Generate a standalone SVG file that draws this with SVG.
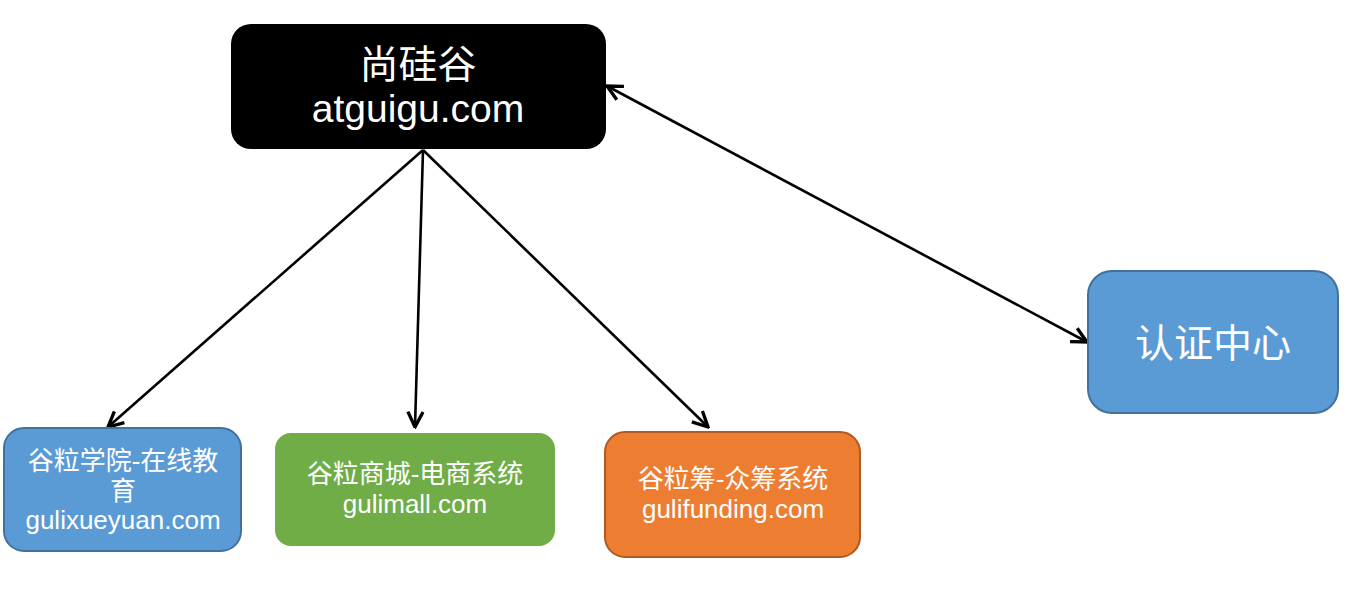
<svg xmlns="http://www.w3.org/2000/svg" width="1366" height="591" viewBox="0 0 1366 591">
<style>
.t{font-family:"Liberation Sans","Noto Sans CJK SC",sans-serif;fill:#fff;text-anchor:middle}
.c{stroke:#000;stroke-width:2.6;fill:none}
</style>
<defs>
<marker id="a" viewBox="0 0 12 12" refX="11" refY="6" markerWidth="7" markerHeight="7" markerUnits="strokeWidth" orient="auto-start-reverse">
<path d="M1,1 L11,6 L1,11" fill="none" stroke="#000" stroke-width="2.2"/>
</marker>
</defs>
<rect width="1366" height="591" fill="#fff"/>
<g id="connectors">
<line class="c" x1="423" y1="150" x2="108" y2="427" marker-end="url(#a)"/>
<line class="c" x1="423" y1="150" x2="415" y2="427" marker-end="url(#a)"/>
<line class="c" x1="423" y1="150" x2="708" y2="427" marker-end="url(#a)"/>
<line class="c" x1="607" y1="86" x2="1087" y2="342" marker-start="url(#a)" marker-end="url(#a)"/>
</g>
<g id="atguigu">
<rect x="231" y="24" width="375" height="125" rx="20" fill="#000"/>
<text class="t" x="418" y="78" font-size="39">尚硅谷</text>
<text class="t" x="418" y="122" font-size="39">atguigu.com</text>
</g>
<g id="gulixueyuan">
<rect x="4" y="428" width="237" height="123" rx="20" fill="#5b9bd5" stroke="#41719c" stroke-width="2"/>
<text class="t" x="123" y="470" font-size="26">谷粒学院-在线教</text>
<text class="t" x="123" y="500" font-size="26">育</text>
<text class="t" x="123" y="529" font-size="26">gulixueyuan.com</text>
</g>
<g id="gulimall">
<rect x="275" y="433" width="280" height="113" rx="16" fill="#70ad47"/>
<text class="t" x="415" y="483" font-size="26">谷粒商城-电商系统</text>
<text class="t" x="415" y="513" font-size="26">gulimall.com</text>
</g>
<g id="gulifunding">
<rect x="605" y="432" width="255" height="125" rx="20" fill="#ed7d31" stroke="#ae5a21" stroke-width="2"/>
<text class="t" x="733" y="488" font-size="26">谷粒筹-众筹系统</text>
<text class="t" x="733" y="518" font-size="26">gulifunding.com</text>
</g>
<g id="auth">
<rect x="1088" y="271" width="250" height="142" rx="24" fill="#5b9bd5" stroke="#41719c" stroke-width="2"/>
<text class="t" x="1213" y="357" font-size="39">认证中心</text>
</g>
</svg>
